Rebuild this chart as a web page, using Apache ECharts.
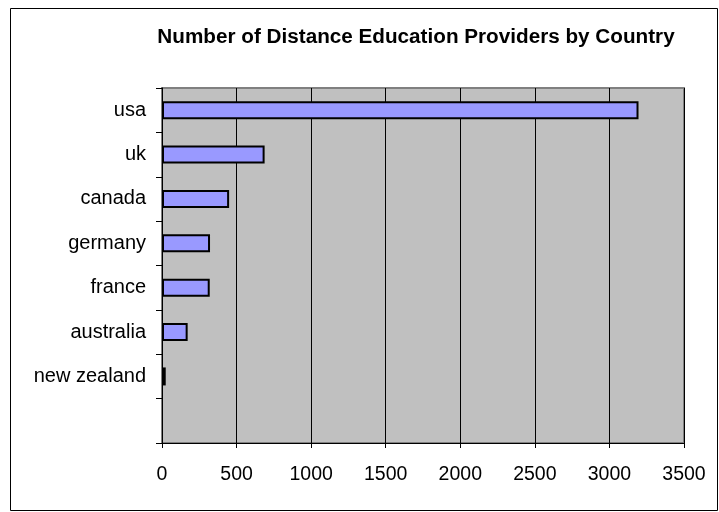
<!DOCTYPE html>
<html>
<head>
<meta charset="utf-8">
<script src="https://cdn.jsdelivr.net/npm/echarts@6/dist/echarts.min.js"></script>
<style>html,body{margin:0;padding:0;background:#fff}#c{width:719px;height:512px}</style>
</head>
<body>
<div id="c"></div>
<script>
const categories = ['', 'new zealand', 'australia', 'france', 'germany', 'canada', 'uk', 'usa'];
const providers = [null, 25, 172, 320, 322, 450, 688, 3195];
const xTicks = [0, 500, 1000, 1500, 2000, 2500, 3000, 3500];

const chart = echarts.init(document.getElementById('c'));
chart.setOption({
  animation: false,
  backgroundColor: '#ffffff',
  title: {
    text: 'Number of Distance Education Providers by Country',
    left: 411, textAlign: 'center', top: 22,
    textStyle: { fontFamily: 'Liberation Sans, Arial', fontSize: 20.7, fontWeight: 'bold', color: '#000' }
  },
  graphic: [{
    type: 'rect', shape: { x: 10.5, y: 8.5, width: 707, height: 502 },
    style: { fill: 'none', stroke: '#000', lineWidth: 1 }, silent: true
  }],
  grid: {
    left: 162, right: 35, top: 88, bottom: 69,
    show: true, backgroundColor: '#C0C0C0', borderColor: '#808080', borderWidth: 2
  },
  xAxis: {
    type: 'value', min: xTicks[0], max: xTicks[xTicks.length - 1], interval: 500,
    axisLine: { show: true, lineStyle: { color: '#000', width: 1 } },
    axisTick: { show: true, length: 5, lineStyle: { color: '#000' } },
    axisLabel: { margin: 22, fontFamily: 'Liberation Sans, Arial', fontSize: 19.5, color: '#000',
      formatter: function (v) { return String(v); } },
    splitLine: { show: true, lineStyle: { color: '#000', width: 1 } }
  },
  yAxis: {
    type: 'category', data: categories,
    axisLine: { show: true, lineStyle: { color: '#000', width: 1 } },
    axisTick: { show: true, length: 6, lineStyle: { color: '#000' } },
    axisLabel: { margin: 16, fontFamily: 'Liberation Sans, Arial', fontSize: 20, color: '#000' }
  },
  series: [{
    type: 'bar', data: providers, barWidth: 18,
    itemStyle: { color: '#9999FF', borderColor: '#000', borderWidth: 2 }
  }]
});
</script>
</body>
</html>
